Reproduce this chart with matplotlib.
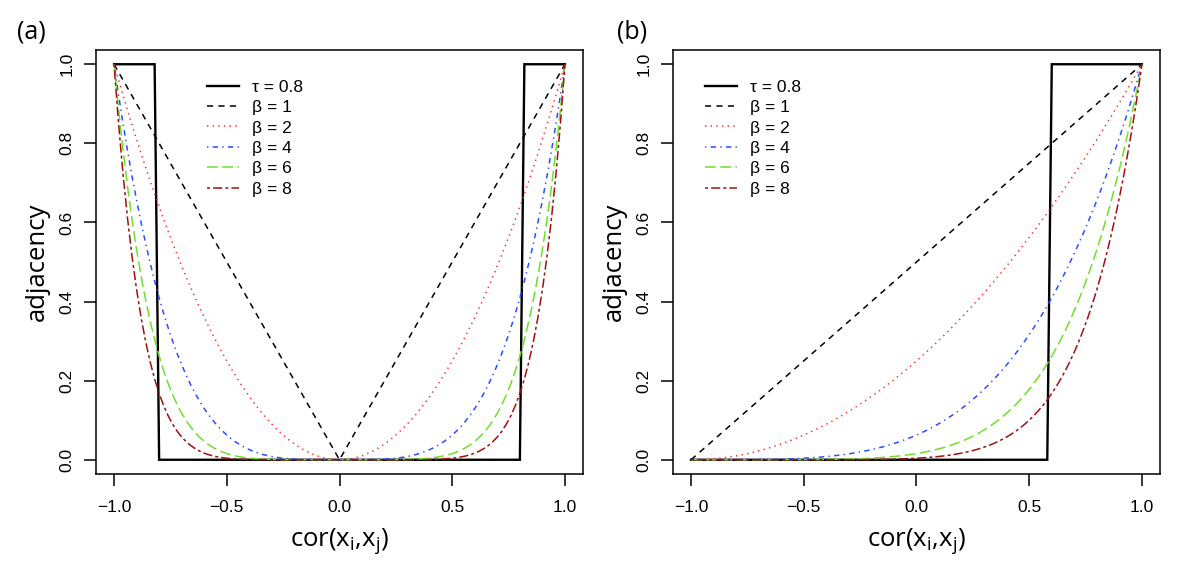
import numpy as np
import matplotlib
matplotlib.use("Agg")
import matplotlib.pyplot as plt

# ---- data ----
cor_grid = np.round(np.arange(-1.0, 1.0001, 0.02), 2)   # correlation grid (step 0.02)
tau = 0.8                                                # hard threshold
betas = [1, 2, 4, 6, 8]                                  # soft-threshold powers
panel_labels = ["(a)", "(b)"]
xticks = [-1.0, -0.5, 0.0, 0.5, 1.0]
yticks = [0.0, 0.2, 0.4, 0.6, 0.8, 1.0]
legend_labels = ["τ = 0.8", "β = 1", "β = 2", "β = 4", "β = 6", "β = 8"]

# ---- styles ----
colors = ["black", "#FF2A2A", "#2A4DFF", "#6EE02A", "#A01010"]
dashes = [(4, 3.5), (0.9, 2.8), (0.9, 2.8, 3.5, 2.8), (7, 3), (2, 2, 6, 2)]

tick_font = "Liberation Sans"
label_font = "Open Sans"
fs_tick = 12.5

fig = plt.figure(figsize=(12, 5.78), dpi=100)

def adj_unsigned(x, b):
    return np.abs(x) ** b

def adj_signed(x, b):
    return ((1 + x) / 2) ** b

panels = [
    dict(pos=[96/1200, 1-474/578, 487/1200, 424/578],
         step=(np.abs(cor_grid) > tau + 1e-9).astype(float),
         func=adj_unsigned, leg_x=0.228),
    dict(pos=[673/1200, 1-474/578, 487/1200, 424/578],
         step=(((1 + cor_grid) / 2) >= tau - 1e-9).astype(float),
         func=adj_signed, leg_x=0.066),
]

for i, p in enumerate(panels):
    ax = fig.add_axes(p["pos"])
    handles = []
    h, = ax.plot(cor_grid, p["step"], color="black", lw=1.7, solid_joinstyle="miter")
    handles.append(h)
    for b, c, d in zip(betas, colors, dashes):
        h, = ax.plot(cor_grid, p["func"](cor_grid, b), color=c, lw=1.1, dashes=d)
        handles.append(h)
    ax.set_xlim(-1.08, 1.08)
    ax.set_ylim(-0.036, 1.036)
    ax.set_xticks(xticks)
    ax.set_yticks(yticks)
    ax.set_xticklabels([f"{v:.1f}".replace("-", "\u2212") for v in xticks],
                       fontfamily=tick_font, fontsize=fs_tick)
    ax.set_yticklabels([f"{v:.1f}" for v in yticks], rotation=90, va="center",
                       fontfamily=tick_font, fontsize=fs_tick)
    ax.tick_params(axis="x", length=8.5, width=1.1, pad=10)
    ax.tick_params(axis="y", length=8.5, width=1.1, pad=7)
    for s in ax.spines.values():
        s.set_linewidth(1.1)
    ax.set_xlabel(r"cor(x$_\mathregular{i}$,x$_\mathregular{j}$)",
                  fontfamily=label_font, fontsize=18.5)
    ax.xaxis.set_label_coords(0.5, -0.125)
    ax.set_ylabel("adjacency", fontfamily=label_font, fontsize=18.5)
    ax.yaxis.set_label_coords(-0.094, 0.5)
    ax.legend(handles, legend_labels, loc="upper left",
              bbox_to_anchor=(p["leg_x"], 0.93), frameon=False,
              handlelength=1.85, handletextpad=0.75, labelspacing=0.3,
              borderpad=0, borderaxespad=0,
              prop=dict(family=tick_font, size=fs_tick))
    fig.text((17 + 600*i)/1200, 1-32/578, panel_labels[i], fontfamily=label_font,
             fontsize=18, va="center", ha="left")

fig.savefig("out.png", dpi=100)
